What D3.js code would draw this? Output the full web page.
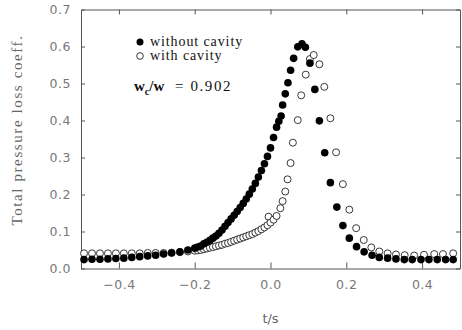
<!DOCTYPE html>
<html>
<head>
<meta charset="utf-8">
<script src="https://cdn.jsdelivr.net/npm/d3@7"></script>
<style>
  body { margin: 0; background: #fff; }
  svg { display: block; }
</style>
</head>
<body>
<div id="chart"></div>
<script>
// without cavity (filled markers)
var tWithout = [-0.492, -0.471, -0.450, -0.429, -0.408, -0.387, -0.366, -0.345, -0.324, -0.303,
  -0.282, -0.261, -0.239, -0.218, -0.200,
  -0.192, -0.184, -0.176, -0.168, -0.160, -0.152, -0.144, -0.136, -0.128, -0.120,
  -0.112, -0.104, -0.096, -0.088, -0.080, -0.072, -0.064, -0.056, -0.048, -0.040,
  -0.032, -0.024, -0.016, -0.008, 0.000, 0.008, 0.016,
  0.022, 0.028, 0.032, 0.039, 0.046, 0.053, 0.061, 0.072, 0.083, 0.092,
  0.104, 0.117, 0.129, 0.143, 0.158, 0.175, 0.191, 0.208, 0.227, 0.247,
  0.268, 0.287, 0.309, 0.331, 0.353, 0.374, 0.397, 0.418, 0.440, 0.462, 0.482];
var vWithout = [0.024, 0.025, 0.025, 0.026, 0.027, 0.028, 0.030, 0.032, 0.034, 0.036,
  0.039, 0.042, 0.045, 0.050, 0.055,
  0.058, 0.061, 0.067, 0.071, 0.076, 0.082, 0.088, 0.095, 0.104, 0.114,
  0.124, 0.134, 0.144, 0.154, 0.165, 0.176, 0.188, 0.201, 0.215, 0.230,
  0.247, 0.265, 0.283, 0.303, 0.326, 0.354, 0.382,
  0.398, 0.412, 0.442, 0.472, 0.502, 0.536, 0.568, 0.599, 0.607, 0.598,
  0.555, 0.484, 0.399, 0.313, 0.232, 0.166, 0.116, 0.082, 0.059, 0.045,
  0.036, 0.030, 0.028, 0.026, 0.024, 0.024, 0.024, 0.024, 0.024, 0.024, 0.024];

// with cavity (open markers)
var tWith = [-0.492, -0.471, -0.450, -0.429, -0.408, -0.387, -0.366, -0.345, -0.324, -0.303,
  -0.282, -0.261, -0.239, -0.218, -0.200,
  -0.192, -0.184, -0.176, -0.168, -0.160, -0.152, -0.144, -0.136, -0.128, -0.120,
  -0.112, -0.104, -0.096, -0.088, -0.080, -0.072, -0.064, -0.056, -0.048, -0.040,
  -0.032, -0.024, -0.016, -0.008, -0.005, 0.000, 0.008, 0.016,
  0.026, 0.032, 0.039, 0.045, 0.053, 0.059, 0.072, 0.081, 0.093, 0.104, 0.114,
  0.129, 0.142, 0.158, 0.173, 0.191, 0.208, 0.226, 0.246, 0.266, 0.287,
  0.309, 0.331, 0.354, 0.379, 0.405, 0.432, 0.455, 0.482];
var vWith = [0.041, 0.041, 0.041, 0.041, 0.041, 0.041, 0.041, 0.041, 0.042, 0.042,
  0.042, 0.043, 0.044, 0.046, 0.048,
  0.049, 0.050, 0.052, 0.054, 0.056, 0.058, 0.060, 0.062, 0.064, 0.067,
  0.069, 0.072, 0.075, 0.078, 0.081, 0.084, 0.087, 0.090, 0.093, 0.097,
  0.101, 0.106, 0.111, 0.117, 0.140, 0.124, 0.132, 0.142,
  0.163, 0.182, 0.208, 0.241, 0.285, 0.340, 0.401, 0.468, 0.524, 0.566, 0.577,
  0.552, 0.491, 0.406, 0.314, 0.228, 0.159, 0.109, 0.077, 0.057, 0.046,
  0.041, 0.038, 0.036, 0.035, 0.037, 0.039, 0.039, 0.041];

var xTicks = [-0.4, -0.2, 0.0, 0.2, 0.4];
var yTicks = [0.0, 0.1, 0.2, 0.3, 0.4, 0.5, 0.6, 0.7];
var legendLabels = ["without cavity", "with cavity"];

var svgWidth = 462, svgHeight = 330;
var svg = d3.select("#chart").append("svg")
  .attr("width", svgWidth)
  .attr("height", svgHeight);

var x = d3.scaleLinear().domain([-0.5, 0.5]).range([81, 460]);
var y = d3.scaleLinear().domain([0, 0.7]).range([268.5, 9.5]);

var fmt = function(d) { return d === 0 ? "0.0" : d3.format(".1f")(d).replace("-", "\u2212"); };

// frame: axes on all four sides, ticks pointing in
var axisColor = "#555";
var gl = svg.append("g").attr("transform", "translate(" + x(-0.5) + ",0)")
  .call(d3.axisLeft(y).tickValues(yTicks).tickSizeInner(-4).tickSizeOuter(0).tickPadding(10)
    .tickFormat(function(d) { return d === 0 ? "0.0" : d3.format(".1f")(d); }));
var gb = svg.append("g").attr("transform", "translate(0," + y(0) + ")")
  .call(d3.axisBottom(x).tickValues(xTicks).tickSizeInner(-6).tickSizeOuter(0).tickPadding(12)
    .tickFormat(fmt));
var gt = svg.append("g").attr("transform", "translate(0," + y(0.7) + ")")
  .call(d3.axisTop(x).tickValues(xTicks).tickSizeInner(-5).tickSizeOuter(0).tickFormat(""));
var gr = svg.append("g").attr("transform", "translate(" + x(0.5) + ",0)")
  .call(d3.axisRight(y).tickValues(yTicks).tickSizeInner(-4).tickSizeOuter(0).tickFormat(""));

[gl, gb, gt, gr].forEach(function(g) {
  g.select(".domain").attr("stroke", axisColor).attr("stroke-width", 1);
  g.selectAll(".tick line").attr("stroke", axisColor);
  g.selectAll(".tick text")
    .attr("fill", "#777")
    .style("font-family", "'DejaVu Sans', sans-serif")
    .style("font-size", "12.5px")
    .style("letter-spacing", "0.5px");
});

// markers
var withData = tWith.map(function(t, i) { return [t, vWith[i]]; });
var withoutData = tWithout.map(function(t, i) { return [t, vWithout[i]]; });

svg.append("g").selectAll("circle")
  .data(withData)
  .enter().append("circle")
  .attr("cx", d => x(d[0]))
  .attr("cy", d => y(d[1]))
  .attr("r", 3.5)
  .attr("fill", "#fff")
  .attr("stroke", "#222")
  .attr("stroke-width", 0.9);

svg.append("g").selectAll("circle")
  .data(withoutData)
  .enter().append("circle")
  .attr("cx", d => x(d[0]))
  .attr("cy", d => y(d[1]))
  .attr("r", 3.8)
  .attr("fill", "#000");

// legend
var serif = "'Liberation Serif', 'DejaVu Serif', serif";
var leg = svg.append("g");
leg.append("circle").attr("cx", 140).attr("cy", 42).attr("r", 3.5).attr("fill", "#000");
leg.append("circle").attr("cx", 140).attr("cy", 56).attr("r", 3.3)
  .attr("fill", "#fff").attr("stroke", "#222").attr("stroke-width", 0.9);
leg.selectAll("text.lab")
  .data(legendLabels)
  .enter().append("text")
  .attr("class", "lab")
  .attr("x", 150)
  .attr("y", (d, i) => 46 + i * 14)
  .style("font-family", serif)
  .style("font-size", "14px")
  .style("letter-spacing", "0.9px")
  .attr("fill", "#111")
  .text(d => d);

var ratio = leg.append("text")
  .attr("x", 134).attr("y", 91)
  .style("font-family", serif)
  .style("font-size", "15px")
  .attr("fill", "#111");
ratio.append("tspan").style("font-weight", "bold").text("w");
ratio.append("tspan").attr("dy", 4).style("font-size", "10px").style("font-weight", "bold").text("c");
ratio.append("tspan").attr("dy", -4).style("font-weight", "bold").text("/w");
ratio.append("tspan").style("letter-spacing", "1.6px").attr("xml:space", "preserve").text("  = 0.902");

// axis titles
svg.append("text")
  .attr("x", x(0)).attr("y", 323)
  .attr("text-anchor", "middle")
  .attr("fill", "#666")
  .style("font-family", "'DejaVu Sans', sans-serif")
  .style("font-size", "13px")
  .text("t/s");

svg.append("text")
  .attr("transform", "translate(22,130) rotate(-90)")
  .attr("text-anchor", "middle")
  .attr("fill", "#666")
  .style("font-family", serif)
  .style("font-size", "15px")
  .style("letter-spacing", "1.6px")
  .text("Total pressure loss coeff.");
</script>
</body>
</html>
